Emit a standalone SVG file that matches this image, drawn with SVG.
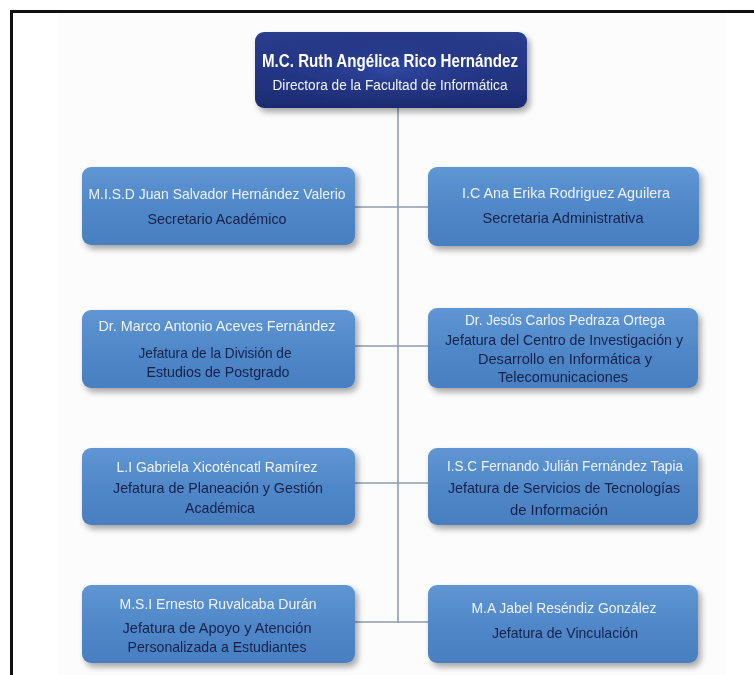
<svg xmlns="http://www.w3.org/2000/svg" width="754" height="675" viewBox="0 0 754 675">
  <defs>
    <linearGradient id="gTop" x1="0" y1="0" x2="0" y2="1">
      <stop offset="0" stop-color="#2a3c8c"/>
      <stop offset="0.5" stop-color="#25388a"/>
      <stop offset="1" stop-color="#1c2b70"/>
    </linearGradient>
    <radialGradient id="gTopGlow" cx="0.5" cy="0.5" r="0.6">
      <stop offset="0" stop-color="#3249a6" stop-opacity="0.9"/>
      <stop offset="1" stop-color="#1a2766" stop-opacity="0"/>
    </radialGradient>
    <linearGradient id="gBox" x1="0" y1="0" x2="0" y2="1">
      <stop offset="0" stop-color="#5f96d3"/>
      <stop offset="0.5" stop-color="#5088c9"/>
      <stop offset="1" stop-color="#487fc1"/>
    </linearGradient>
    <filter id="shadow" x="-10%" y="-20%" width="125%" height="150%">
      <feGaussianBlur in="SourceAlpha" stdDeviation="3"/>
      <feOffset dx="3" dy="4" result="b"/>
      <feComponentTransfer><feFuncA type="linear" slope="0.35"/></feComponentTransfer>
      <feMerge><feMergeNode/><feMergeNode in="SourceGraphic"/></feMerge>
    </filter>
  </defs>
  <style>
    .name { font-family: "Liberation Sans", "DejaVu Sans", Arial, sans-serif; font-size: 14.5px; fill: #eef3fb; text-anchor: middle; }
    .role { font-family: "Liberation Sans", "DejaVu Sans", Arial, sans-serif; font-size: 14.5px; fill: #17214a; text-anchor: middle; }
    .head1 { font-family: "Liberation Sans", "DejaVu Sans", Arial, sans-serif; font-size: 18.5px; font-weight: bold; fill: #ffffff; text-anchor: middle; }
    .head2 { font-family: "Liberation Sans", "DejaVu Sans", Arial, sans-serif; font-size: 14px; fill: #f2f5ff; text-anchor: middle; }
    .box { fill: url(#gBox); }
    .conn { stroke: #8d9db2; stroke-width: 1.6; fill: none; }
  </style>

  <!-- page -->
  <rect x="0" y="0" width="754" height="675" fill="#ffffff"/>
  <rect x="58" y="13" width="668" height="662" fill="#fcfcfc"/>
  <path d="M11.5 675 V11.5 H754" fill="none" stroke="#111111" stroke-width="3"/>

  <!-- connectors -->
  <g id="connectors">
    <line class="conn" x1="398" y1="107" x2="398" y2="623"/>
    <line class="conn" x1="355" y1="207" x2="428" y2="207"/>
    <line class="conn" x1="355" y1="346" x2="428" y2="346"/>
    <line class="conn" x1="355" y1="483" x2="428" y2="483"/>
    <line class="conn" x1="355" y1="622" x2="428" y2="622"/>
  </g>

  <!-- director -->
  <g id="node-director" filter="url(#shadow)">
    <rect x="255" y="32" width="272" height="76" rx="9" fill="url(#gTop)"/>
    <rect x="255" y="32" width="272" height="76" rx="9" fill="url(#gTopGlow)"/>
    <text class="head1" x="390" y="67" textLength="256" lengthAdjust="spacingAndGlyphs">M.C. Ruth Angélica Rico Hernández</text>
    <text class="head2" x="390" y="90" textLength="235" lengthAdjust="spacingAndGlyphs">Directora de la Facultad de Informática</text>
  </g>

  <!-- row 1 -->
  <g id="node-secretario-academico" filter="url(#shadow)">
    <rect class="box" x="82" y="167" width="273" height="78" rx="9"/>
    <text class="name" x="217" y="199" textLength="257" lengthAdjust="spacingAndGlyphs">M.I.S.D Juan Salvador Hernández Valerio</text>
    <text class="role" x="217" y="224" textLength="139" lengthAdjust="spacingAndGlyphs">Secretario Académico</text>
  </g>
  <g id="node-secretaria-administrativa" filter="url(#shadow)">
    <rect class="box" x="428" y="167" width="271" height="79" rx="9"/>
    <text class="name" x="566" y="198" textLength="208" lengthAdjust="spacingAndGlyphs">I.C  Ana Erika Rodriguez Aguilera</text>
    <text class="role" x="563" y="223" textLength="161" lengthAdjust="spacingAndGlyphs">Secretaria Administrativa</text>
  </g>

  <!-- row 2 -->
  <g id="node-postgrado" filter="url(#shadow)">
    <rect class="box" x="82" y="310" width="273" height="78" rx="9"/>
    <text class="name" x="217" y="331" textLength="237" lengthAdjust="spacingAndGlyphs">Dr. Marco Antonio Aceves Fernández</text>
    <text class="role" x="215" y="358" textLength="153" lengthAdjust="spacingAndGlyphs">Jefatura de la División de</text>
    <text class="role" x="218" y="377" textLength="143" lengthAdjust="spacingAndGlyphs">Estudios de Postgrado</text>
  </g>
  <g id="node-investigacion" filter="url(#shadow)">
    <rect class="box" x="428" y="308" width="270" height="80" rx="9"/>
    <text class="name" x="565" y="325" textLength="200" lengthAdjust="spacingAndGlyphs">Dr. Jesús Carlos Pedraza Ortega</text>
    <text class="role" x="564" y="345" textLength="238" lengthAdjust="spacingAndGlyphs">Jefatura del Centro de Investigación y</text>
    <text class="role" x="565" y="364" textLength="174" lengthAdjust="spacingAndGlyphs">Desarrollo en Informática y</text>
    <text class="role" x="563" y="382" textLength="130" lengthAdjust="spacingAndGlyphs">Telecomunicaciones</text>
  </g>

  <!-- row 3 -->
  <g id="node-planeacion" filter="url(#shadow)">
    <rect class="box" x="82" y="448" width="273" height="77" rx="9"/>
    <text class="name" x="217" y="472" textLength="201" lengthAdjust="spacingAndGlyphs">L.I Gabriela Xicoténcatl Ramírez</text>
    <text class="role" x="218" y="493" textLength="210" lengthAdjust="spacingAndGlyphs">Jefatura de Planeación y Gestión</text>
    <text class="role" x="220" y="513" textLength="70" lengthAdjust="spacingAndGlyphs">Académica</text>
  </g>
  <g id="node-servicios-tecnologias" filter="url(#shadow)">
    <rect class="box" x="428" y="448" width="270" height="77" rx="9"/>
    <text class="name" x="565" y="471" textLength="236" lengthAdjust="spacingAndGlyphs">I.S.C Fernando Julián Fernández Tapia</text>
    <text class="role" x="564" y="493" textLength="232" lengthAdjust="spacingAndGlyphs">Jefatura de Servicios de Tecnologías</text>
    <text class="role" x="559" y="515" textLength="98" lengthAdjust="spacingAndGlyphs">de Información</text>
  </g>

  <!-- row 4 -->
  <g id="node-apoyo-estudiantes" filter="url(#shadow)">
    <rect class="box" x="82" y="585" width="273" height="78" rx="9"/>
    <text class="name" x="218" y="609" textLength="197" lengthAdjust="spacingAndGlyphs">M.S.I Ernesto Ruvalcaba Durán</text>
    <text class="role" x="217" y="633" textLength="189" lengthAdjust="spacingAndGlyphs">Jefatura de Apoyo y Atención</text>
    <text class="role" x="217" y="652" textLength="179" lengthAdjust="spacingAndGlyphs">Personalizada a Estudiantes</text>
  </g>
  <g id="node-vinculacion" filter="url(#shadow)">
    <rect class="box" x="428" y="585" width="270" height="78" rx="9"/>
    <text class="name" x="564" y="613" textLength="185" lengthAdjust="spacingAndGlyphs">M.A Jabel Reséndiz González</text>
    <text class="role" x="565" y="638" textLength="146" lengthAdjust="spacingAndGlyphs">Jefatura de Vinculación</text>
  </g>
</svg>
